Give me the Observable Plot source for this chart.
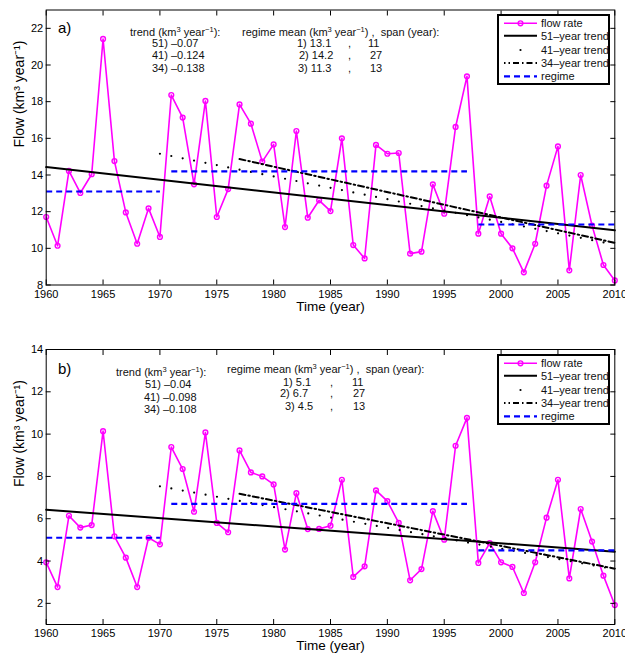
<!DOCTYPE html>
<html>
<head>
<meta charset="utf-8">
<script src="https://cdn.jsdelivr.net/npm/d3@7"></script>
<script src="https://cdn.jsdelivr.net/npm/@observablehq/plot@0.6"></script>
<style>
  body { margin: 0; background: #fff; font-family: "Liberation Sans", Arial, sans-serif; }
  #wrap { position: relative; width: 625px; height: 659px; overflow: hidden; }
  .panel { position: absolute; left: 0; }
  .t { position: absolute; font-size: 11px; line-height: 12px; color: #111; white-space: pre; }
  .t sup { font-size: 7.5px; line-height: 0; vertical-align: 4px; }
  .lab { position: absolute; font-size: 15px; line-height: 18px; color: #000; }
  .legend { position: absolute; }
</style>
</head>
<body>
<div id="wrap"></div>
<script>
// ---------- data ----------
const years = d3.range(1960, 2011);
const flowA = [11.71,10.14,14.22,13.02,14.04,21.42,14.76,11.96,10.25,12.18,
               10.62,18.36,17.13,13.49,18.04,11.71,13.23,17.85,16.8,14.73,
               15.67,11.16,16.4,11.67,12.62,12.03,16.0,10.18,9.45,15.64,
               15.16,15.2,9.71,9.82,13.49,11.89,16.62,19.38,10.8,12.83,
               10.8,10.0,8.69,10.25,13.42,15.56,8.8,14.0,11.24,9.09,8.25];
const flowB = [3.94,2.77,6.14,5.58,5.7,10.14,5.17,4.16,2.77,5.1,
               4.79,9.39,8.35,6.33,10.08,5.8,5.36,9.23,8.19,8.0,
               7.62,4.54,7.21,5.51,5.52,5.67,7.84,3.25,3.75,7.34,
               6.83,5.8,3.09,3.62,6.36,5.01,9.45,10.77,3.91,4.85,
               3.94,3.72,2.49,3.94,6.05,7.84,3.18,6.46,4.92,3.31,1.92];
// trend lines: [startYear, startValue, endYear, endValue]
const trend51A = [1960, 14.43, 2010, 10.98];
const trend41A = [1970, 15.16, 2010, 10.2];
const trend34A = [1977, 14.87, 2010, 10.3];
const trend51B = [1960, 6.43, 2010, 4.44];
const trend41B = [1970, 7.53, 2010, 3.61];
const trend34B = [1977, 7.18, 2010, 3.64];
// regimes: start year, end year
const regimeStart = [1960, 1971, 1998];
const regimeEnd   = [1970, 1997, 2010];
const regimeMeanA = [13.1, 14.2, 11.3];
const regimeMeanB = [5.1, 6.7, 4.5];
const regimeSpan  = [11, 27, 13];
const trendSlopeA = ["–0.07", "–0.124", "–0.138"];
const trendSlopeB = ["–0.04", "–0.098", "–0.108"];
const trendYears  = [51, 41, 34];
const xTicks = [1960,1965,1970,1975,1980,1985,1990,1995,2000,2005,2010];
const yTicksA = [8,10,12,14,16,18,20,22];
const yTicksB = [2,4,6,8,10,12,14];
const legendLabels = ["flow rate","51–year trend","41–year trend","34–year trend","regime"];

const MAG = "#ff00ff", BLUE = "#0000ff";

function seg(t) { return [{x: t[0], y: t[1]}, {x: t[2], y: t[3]}]; }

function panel({flow, t51, t41, t34, means, yDomain, yTicks, height, marginTop, marginBottom}) {
  const series = years.map((yr, i) => ({year: yr, v: flow[i]}));
  const regimes = regimeStart.map((s, i) => ({x1: s, x2: regimeEnd[i], y: means[i]}));
  return Plot.plot({
    width: 625, height, marginLeft: 45.7, marginRight: 10.7, marginTop, marginBottom,
    style: {fontFamily: "Liberation Sans, Arial, sans-serif", fontSize: "11px", color: "#000", background: "transparent", overflow: "visible"},
    x: {domain: [1960, 2010]},
    y: {domain: yDomain},
    marks: [
      Plot.line(series, {x: "year", y: "v", stroke: MAG, strokeWidth: 1.6}),
      Plot.dot(series, {x: "year", y: "v", r: 2.4, stroke: MAG, strokeWidth: 1.4, fill: "none"}),
      Plot.line(seg(t51), {x: "x", y: "y", stroke: "#000", strokeWidth: 2}),
      Plot.line(seg(t41), {x: "x", y: "y", stroke: "#000", strokeWidth: 2.2, strokeLinecap: "round", strokeDasharray: "0,11.6"}),
      Plot.line(seg(t34), {x: "x", y: "y", stroke: "#000", strokeWidth: 2, strokeDasharray: "6,3,1.5,3"}),
      Plot.link(regimes, {x1: "x1", x2: "x2", y1: "y", y2: "y", stroke: BLUE, strokeWidth: 2.2, strokeDasharray: "6,4"}),
      Plot.frame({stroke: "#000", strokeWidth: 1}),
      Plot.axisX({ticks: xTicks, tickSize: 0, tickPadding: 5, tickFormat: d => String(d), label: null}),
      Plot.axisX({anchor: "bottom", ticks: xTicks, tickSize: -5, tickFormat: () => "", label: null}),
      Plot.axisX({anchor: "top", ticks: xTicks, tickSize: -5, tickFormat: () => "", label: null}),
      Plot.axisY({ticks: yTicks, tickSize: 0, tickPadding: 3, label: null}),
      Plot.axisY({anchor: "left", ticks: yTicks, tickSize: -5, tickFormat: () => "", label: null}),
      Plot.axisY({anchor: "right", ticks: yTicks, tickSize: -5, tickFormat: () => "", label: null}),
      Plot.text(["Flow (km³ year⁻¹)"], {frameAnchor: "left", rotate: -90, dx: -27, fontSize: 14}),
      Plot.text(["Time (year)"], {frameAnchor: "bottom", dy: 25.5, fontSize: 13.5})
    ]
  });
}

const wrap = document.getElementById("wrap");

const pa = panel({flow: flowA, t51: trend51A, t41: trend41A, t34: trend34A, means: regimeMeanA,
  yDomain: [8, 23], yTicks: yTicksA, height: 320, marginTop: 9.5, marginBottom: 35.5});
pa.classList.add("panel"); pa.style.top = "0px";
wrap.appendChild(pa);

const pb = panel({flow: flowB, t51: trend51B, t41: trend41B, t34: trend34B, means: regimeMeanB,
  yDomain: [1, 14], yTicks: yTicksB, height: 339, marginTop: 29, marginBottom: 35});
pb.classList.add("panel"); pb.style.top = "320px";
wrap.appendChild(pb);

function addText(html, left, cy, cls = "t") {
  const d = document.createElement("div");
  d.className = cls;
  d.innerHTML = html;
  d.style.left = left + "px";
  d.style.top = (cy - (cls === "lab" ? 9 : 6)) + "px";
  wrap.appendChild(d);
}

function annotations(o) {
  addText(o.tag, o.tagX, o.tagY, "lab");
  addText("trend (km<sup>3</sup> year<sup>−1</sup>):", o.trendHeadX, o.trendHeadY);
  o.slopes.forEach((s, i) => addText(`${trendYears[i]}) ${s}`, o.trendX[i], o.rowY[i]));
  addText("regime mean (km<sup>3</sup> year<sup>−1</sup>) ,  span (year):", o.regHeadX, o.regHeadY);
  o.means.forEach((m, i) => {
    addText(`${i + 1}) ${m}`, o.regX[i], o.regRowY[i]);
    addText(",", o.commaX, o.regRowY[i]);
    addText(String(regimeSpan[i]), o.spanX[i], o.regRowY[i]);
  });
}

annotations({tag: "a)", tagX: 58, tagY: 28, trendHeadX: 130, trendHeadY: 31.7,
  slopes: trendSlopeA, trendX: [152, 152, 152], rowY: [42.7, 55.3, 68],
  regHeadX: 242, regHeadY: 31.7, means: regimeMeanA, regX: [297, 299, 298], regRowY: [42.7, 55.3, 68],
  commaX: 348, spanX: [368, 370, 370]});

annotations({tag: "b)", tagX: 58, tagY: 369, trendHeadX: 116, trendHeadY: 371.7,
  slopes: trendSlopeB, trendX: [145, 144, 144], rowY: [384.3, 396.7, 409],
  regHeadX: 227, regHeadY: 369, means: regimeMeanB, regX: [283, 280, 285], regRowY: [381.7, 393.3, 406],
  commaX: 330, spanX: [352, 353, 353]});

function legend(top) {
  const w = 113, h = 71;
  const svg = d3.create("svg").attr("width", w).attr("height", h).attr("class", "legend")
    .style("left", "497px").style("top", top + "px");
  svg.append("rect").attr("x", 1).attr("y", 1).attr("width", w - 2).attr("height", h - 2)
    .attr("fill", "#fff").attr("stroke", "#000").attr("stroke-width", 2);
  const rows = [9.3, 21.7, 36, 49, 62.3];
  const x0 = 7, x1 = 40;
  svg.append("line").attr("x1", x0).attr("x2", x1).attr("y1", rows[0]).attr("y2", rows[0]).attr("stroke", MAG).attr("stroke-width", 1.6);
  svg.append("circle").attr("cx", (x0 + x1) / 2).attr("cy", rows[0]).attr("r", 2.4).attr("fill", "none").attr("stroke", MAG).attr("stroke-width", 1.4);
  svg.append("line").attr("x1", x0).attr("x2", x1).attr("y1", rows[1]).attr("y2", rows[1]).attr("stroke", "#000").attr("stroke-width", 2);
  svg.append("circle").attr("cx", (x0 + x1) / 2).attr("cy", rows[2]).attr("r", 1.1).attr("fill", "#000");
  svg.append("line").attr("x1", x0).attr("x2", x1).attr("y1", rows[3]).attr("y2", rows[3]).attr("stroke", "#000").attr("stroke-width", 2).attr("stroke-dasharray", "6,3,1.5,3").attr("stroke-dashoffset", 4.5);
  svg.append("line").attr("x1", x0).attr("x2", x1).attr("y1", rows[4]).attr("y2", rows[4]).attr("stroke", BLUE).attr("stroke-width", 2.2).attr("stroke-dasharray", "6,4");
  legendLabels.forEach((t, i) => {
    svg.append("text").attr("x", 44).attr("y", rows[i]).attr("dy", "0.35em")
      .attr("font-size", 11).attr("font-family", "Liberation Sans, Arial, sans-serif").attr("fill", "#111").text(t);
  });
  wrap.appendChild(svg.node());
}
legend(14);
legend(354);
</script>
</body>
</html>
